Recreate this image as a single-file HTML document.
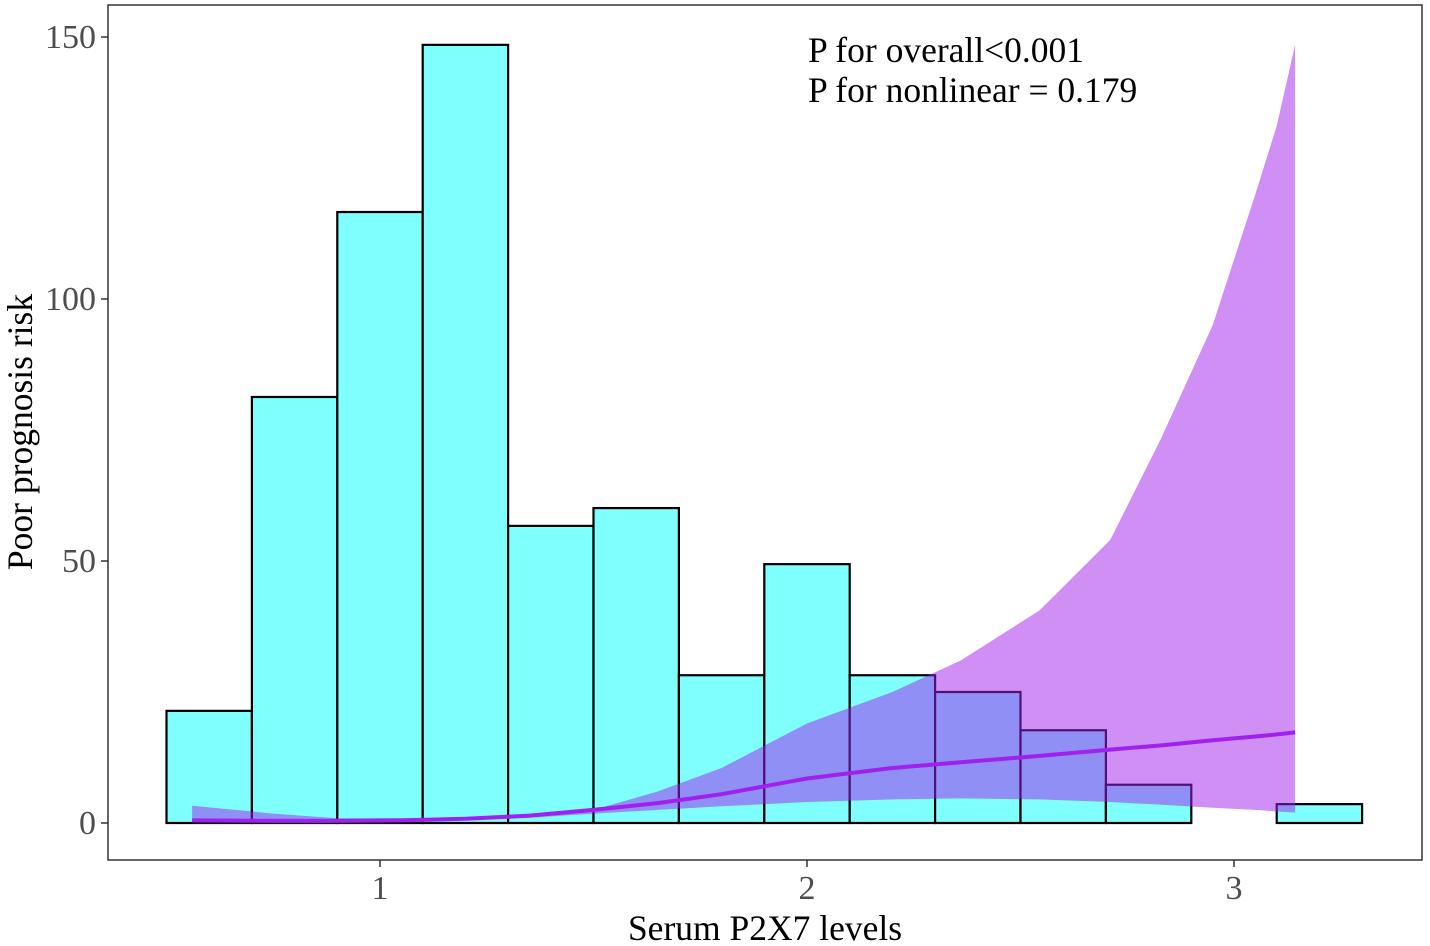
<!DOCTYPE html>
<html><head><meta charset="utf-8"><style>
html,body{margin:0;padding:0;background:#fff;}
svg{display:block;font-family:"Liberation Serif",serif;}
</style></head><body>
<svg id="chart" width="1430" height="946">
<rect x="108" y="5" width="1314" height="855" fill="#fff" stroke="#333" stroke-width="1.5"/>
<g id="bars"></g>
<g id="ribbon"></g>
<g id="axes"></g>
<text x="808" y="62" font-size="35.5" fill="#000">P for overall&lt;0.001</text>
<text x="808" y="102" font-size="35.5" fill="#000">P for nonlinear = 0.179</text>
<text x="765" y="940" font-size="35.5" text-anchor="middle" fill="#000">Serum P2X7 levels</text>
<text transform="translate(32,432) rotate(-90)" font-size="35.5" text-anchor="middle" fill="#000">Poor prognosis risk</text>
</svg>
<script>
const binCenters=[0.6,0.8,1.0,1.2,1.4,1.6,1.8,2.0,2.2,2.4,2.6,2.8,3.0,3.2];
const binCounts=[21.4,81.3,116.6,148.5,56.7,60.1,28.2,49.4,28.2,25,17.7,7.3,0,3.6];
const binWidth=0.2;
const curveX=[0.56,0.75,0.9,1.05,1.2,1.35,1.5,1.65,1.8,2.0,2.2,2.36,2.545,2.71,2.827,2.95,3.05,3.1,3.143];
const curveFit=[0.5,0.4,0.4,0.5,0.8,1.4,2.5,3.8,5.5,8.5,10.5,11.6,12.8,14,14.8,15.8,16.5,16.9,17.3];
const curveUpper=[3.3,1.8,0.9,0.9,1.1,1.5,2.5,6,10.5,19,25,31,40.6,54,73,95,120,133,148.5];
const curveLower=[0.3,0.2,0.1,0.2,0.5,1.0,1.8,2.5,3.2,4,4.5,4.7,4.5,4.0,3.5,2.9,2.5,2.2,2.0];
const xTicks=[1,2,3];
const yTicks=[0,50,100,150];

const NS="http://www.w3.org/2000/svg";
const xs=v=>380+(v-1)*427;
const ys=v=>823-v*5.24;
function mk(tag,attrs,parent){const e=document.createElementNS(NS,tag);for(const k in attrs)e.setAttribute(k,attrs[k]);parent.appendChild(e);return e;}
const gb=document.getElementById('bars');
binCenters.forEach((c,i)=>{
  const x0=xs(c-binWidth/2),x1=xs(c+binWidth/2);
  const r=mk('rect',{x:x0,y:ys(binCounts[i]),width:x1-x0,height:ys(0)-ys(binCounts[i]),fill:'#80ffff',stroke:'#000','stroke-width':2.2},gb);
  
  
});
const gr=document.getElementById('ribbon');
let d='M'+curveX.map((x,i)=>xs(x)+','+ys(curveUpper[i])).join(' L');
for(let i=curveX.length-1;i>=0;i--)d+=' L'+xs(curveX[i])+','+ys(curveLower[i]);
d+=' Z';
const rb=mk('path',{d:d,fill:'rgba(159,31,235,0.5)',stroke:'none'},gr);


const ln=mk('path',{d:'M'+curveX.map((x,i)=>xs(x)+','+ys(curveFit[i])).join(' L'),fill:'none',stroke:'#a020f0','stroke-width':4},gr);


const ga=document.getElementById('axes');
xTicks.forEach(t=>{
  const l=mk('line',{x1:xs(t),x2:xs(t),y1:860,y2:867,stroke:'#333','stroke-width':1.5},ga);
  
  
  const tx=mk('text',{x:xs(t),y:899,'font-size':34,'text-anchor':'middle',fill:'#4d4d4d'},ga);
  tx.textContent=t;
  
  
});
yTicks.forEach(t=>{
  const l=mk('line',{x1:101,x2:108,y1:ys(t),y2:ys(t),stroke:'#333','stroke-width':1.5},ga);
  
  
  const tx=mk('text',{x:96,y:ys(t)+11,'font-size':34,'text-anchor':'end',fill:'#4d4d4d'},ga);
  tx.textContent=t;
  
  
});
</script>
</body></html>
